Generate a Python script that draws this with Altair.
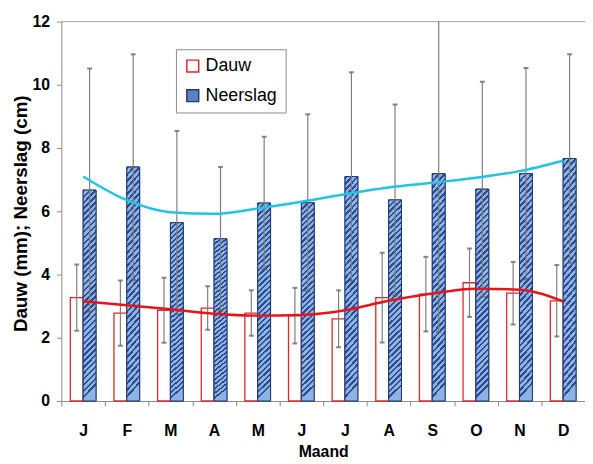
import altair as alt
import pandas as pd

FONT = "Liberation Sans"

# ---- data ----
months = ["januari", "februari", "maart", "april", "mei", "juni",
          "juli", "augustus", "september", "oktober", "november", "december"]
series = ["Dauw", "Neerslag"]

dauw_mean = [3.27, 2.78, 2.87, 2.94, 2.78, 2.70, 2.60, 3.27, 3.38, 3.74, 3.41, 3.17]
dauw_sd = [1.05, 1.03, 1.03, 0.69, 0.72, 0.88, 0.90, 1.42, 1.18, 1.08, 0.99, 1.13]

neerslag_mean = [6.67, 7.40, 5.64, 5.13, 6.26, 6.27, 7.10, 6.36, 7.19, 6.70, 7.19, 7.67]
neerslag_sd = [3.85, 3.57, 2.90, 2.27, 2.10, 2.80, 3.30, 3.02, 5.00, 3.40, 3.34, 3.30]

dauw_trend = [3.15, 3.03, 2.90, 2.76, 2.70, 2.72, 2.87, 3.17, 3.40, 3.55, 3.52, 3.15]
neerslag_trend = [7.10, 6.35, 5.97, 5.92, 6.09, 6.30, 6.54, 6.75, 6.90, 7.06, 7.27, 7.60]

rows = []
for i, m in enumerate(months):
    rows.append({"maand": m, "reeks": "Dauw", "waarde": dauw_mean[i], "sd": dauw_sd[i]})
    rows.append({"maand": m, "reeks": "Neerslag", "waarde": neerslag_mean[i], "sd": neerslag_sd[i]})
df = pd.DataFrame(rows)
df["laag"] = df["waarde"] - df["sd"]
df["hoog"] = df["waarde"] + df["sd"]
dauw_df = df[df["reeks"] == "Dauw"]
neer_df = df[df["reeks"] == "Neerslag"]

trows = []
for i, m in enumerate(months):
    trows.append({"maand": m, "reeks": "Dauw", "trend": dauw_trend[i]})
    trows.append({"maand": m, "reeks": "Neerslag", "trend": neerslag_trend[i]})
tr = pd.DataFrame(trows)

BW = 13      # bar width (px)
OFF = 6.5    # half bar width offset from band centre


def stripes(n=36, dark="#2d4b8e", light="#8db3e4", frac=0.42):
    stops = []
    for i in range(n):
        o0, o1, o2 = i / n, (i + frac) / n, (i + 1) / n
        stops += [
            alt.GradientStop(offset=o0, color=dark),
            alt.GradientStop(offset=o1, color=dark),
            alt.GradientStop(offset=o1, color=light),
            alt.GradientStop(offset=o2, color=light),
        ]
    return alt.LinearGradient(gradient="linear", x1=0, y1=0, x2=0.062, y2=1, stops=stops)


x_axis = alt.Axis(
    labelExpr="isString(datum.value) ? upper(substring(datum.value, 0, 1)) : ''",
    labelAngle=0, tickBand="extent",
    tickSize=5, labelPadding=17, titlePadding=5,
)
x_enc = alt.X("maand:N", sort=months, title="Maand",
              scale=alt.Scale(paddingInner=0, paddingOuter=0), axis=x_axis)

y_scale = alt.Scale(domain=[0, 12], nice=False, zero=True)
y_axis = alt.Axis(values=[0, 2, 4, 6, 8, 10, 12], tickSize=5, labelPadding=7,
                  titleFontSize=19, titleX=-41, titleY=194, titleBaseline="middle",
                  titleAlign="center")
Y_TITLE = "Dauw (mm); Neerslag (cm)"

def yq(field):
    return alt.Y(field, scale=y_scale, axis=y_axis, title=Y_TITLE)

leg = alt.Legend(
    title=None, orient="none", legendX=116, legendY=28,
    symbolType="square", symbolSize=144, symbolStrokeWidth=1.5,
    labelFont=FONT, labelFontSize=18, labelFontWeight="normal", labelColor="black",
    labelOffset=4, padding=8, rowPadding=12,
    strokeColor="#8c8c8c", fillColor="white",
)
fill_enc = alt.Fill("reeks:N", scale=alt.Scale(domain=series, range=["white", "#5d82c2"]), legend=leg)
stroke_enc = alt.Stroke("reeks:N", scale=alt.Scale(domain=series, range=["#e3262b", "#1f3a72"]), legend=leg)

top = alt.Chart(pd.DataFrame({"top": [12]})).mark_rule(color="#a6a6a6", strokeWidth=1).encode(
    y=yq("top:Q"))

bars_d = alt.Chart(dauw_df).mark_bar(width=BW, xOffset=-OFF, strokeWidth=1.3).encode(
    x=x_enc, y=yq("waarde:Q"), fill=fill_enc, stroke=stroke_enc)
bars_n = alt.Chart(neer_df).mark_bar(width=BW, xOffset=OFF, strokeWidth=1).encode(
    x=x_enc, y=yq("waarde:Q"), fill=fill_enc, stroke=stroke_enc)
hatch = alt.Chart(neer_df).mark_bar(width=BW, xOffset=OFF, fill=stripes(),
                                    stroke="#1f3a72", strokeWidth=1).encode(
    x=x_enc, y=yq("waarde:Q"))

def errs(d, off):
    r = alt.Chart(d).mark_rule(color="#7f7f7f", strokeWidth=1.2, clip=True, xOffset=off).encode(
        x=x_enc, y=yq("laag:Q"), y2="hoog:Q")
    hi = alt.Chart(d).mark_tick(color="#5a5a5a", size=5, thickness=2, clip=True, xOffset=off).encode(
        x=x_enc, y=yq("hoog:Q"))
    lo = alt.Chart(d).mark_tick(color="#5a5a5a", size=5, thickness=2, clip=True, xOffset=off).encode(
        x=x_enc, y=yq("laag:Q"))
    return [r, hi, lo]

lines = alt.Chart(tr).mark_line(strokeWidth=2.5, interpolate="monotone").encode(
    x=x_enc, y=yq("trend:Q"),
    color=alt.Color("reeks:N", scale=alt.Scale(domain=series, range=["#e8141c", "#22c4e4"]), legend=None),
)

chart = alt.layer(top, bars_d, bars_n, hatch, *errs(dauw_df, -OFF), *errs(neer_df, OFF), lines).properties(
    width=530, height=384,
    autosize=alt.AutoSizeParams(type="none"),
    padding={"left": 54, "top": 11, "right": 0, "bottom": 60},
).configure_view(stroke=None).configure_axis(
    labelFont=FONT, titleFont=FONT, labelFontSize=16, titleFontSize=16,
    labelFontWeight="bold", titleFontWeight="bold", labelColor="black", titleColor="black",
    domainColor="#8a8a8a", tickColor="#8a8a8a", grid=False,
)

chart.save("out.html", embed_options={"renderer": "svg", "actions": False})
